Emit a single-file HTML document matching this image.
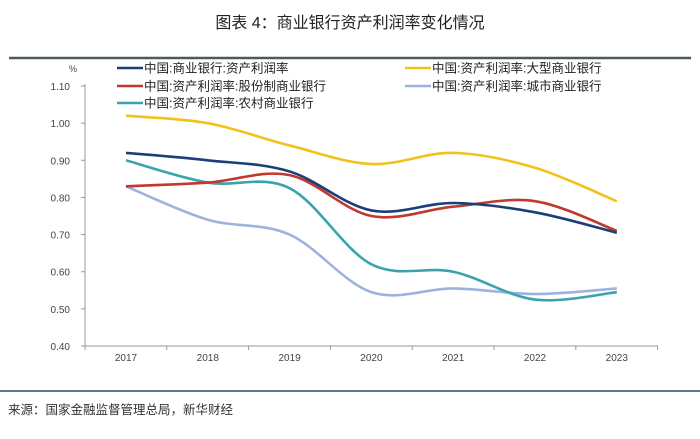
<!DOCTYPE html>
<html><head><meta charset="utf-8"><style>
body{margin:0;background:#fff;width:700px;height:434px;overflow:hidden;font-family:"Liberation Sans","Noto Sans CJK SC",sans-serif}
</style></head><body>
<svg id="c" width="700" height="434" xmlns="http://www.w3.org/2000/svg">
<text x="350" y="28" text-anchor="middle" font-size="16" fill="#222" font-family="Liberation Sans,Noto Sans CJK SC,sans-serif">图表 4：商业银行资产利润率变化情况</text>
<line x1="9" y1="58" x2="691" y2="58" stroke="#4a5a5e" stroke-width="2.5"/>
<line x1="0" y1="391" x2="700" y2="391" stroke="#1f4f66" stroke-width="1.5"/>
<text x="8" y="414" font-size="12.5" fill="#333" font-family="Liberation Sans,Noto Sans CJK SC,sans-serif">来源：国家金融监督管理总局，新华财经</text>
<text x="69" y="72" font-size="9" fill="#444">%</text>
<g id="axes"></g><g id="lines"></g><g id="legend"></g>
</svg>
<script>
const years=["2017","2018","2019","2020","2021","2022","2023"];
const yTicks=[0.40,0.50,0.60,0.70,0.80,0.90,1.00,1.10];
const seriesNames=["中国:商业银行:资产利润率","中国:资产利润率:大型商业银行","中国:资产利润率:股份制商业银行","中国:资产利润率:城市商业银行","中国:资产利润率:农村商业银行"];
const commercial=[0.92,0.90,0.87,0.765,0.785,0.76,0.705];
const large=[1.02,1.00,0.94,0.89,0.92,0.88,0.79];
const jointStock=[0.83,0.84,0.86,0.75,0.775,0.79,0.71];
const city=[0.83,0.74,0.70,0.545,0.555,0.54,0.555];
const rural=[0.90,0.84,0.825,0.62,0.60,0.525,0.545];
const colors=["#1a3f78","#f2c21b","#c0392b","#9db3de","#3aa3ad"];
const NS="http://www.w3.org/2000/svg";
const x=i=>126+i*81.8, y=v=>346-(v-0.4)/0.1*37.14;
const ax=document.getElementById('axes'),ln=document.getElementById('lines'),lg=document.getElementById('legend');
function mk(p,t,a){const e=document.createElementNS(NS,t);for(const k in a)e.setAttribute(k,a[k]);p.appendChild(e);return e;}
let e=mk(ax,'line',{x1:85,y1:84,x2:85,y2:346,stroke:'#999'});


e=mk(ax,'line',{x1:85,y1:346,x2:658,y2:346,stroke:'#999'});


yTicks.forEach(v=>{mk(ax,'line',{x1:81,y1:y(v),x2:85,y2:y(v),stroke:'#999'});
 const t=mk(ax,'text',{x:70,y:y(v)+4,'text-anchor':'end','font-size':10,fill:'#444'});t.textContent=v.toFixed(2);
 
 });
for(let i=0;i<=7;i++)mk(ax,'line',{x1:85+i*81.8,y1:346,x2:85+i*81.8,y2:350,stroke:'#999'});
years.forEach((yr,i)=>{const t=mk(ax,'text',{x:x(i),y:361,'text-anchor':'middle','font-size':10,fill:'#444'});t.textContent=yr;
 
 });
function path(vals){const p=vals.map((v,i)=>[x(i),y(v)]);let d=`M${p[0][0]},${p[0][1]}`;
 for(let i=0;i<p.length-1;i++){const p0=p[i-1]||p[i],p1=p[i],p2=p[i+1],p3=p[i+2]||p2;
  d+=` C${p1[0]+(p2[0]-p0[0])/6},${p1[1]+(p2[1]-p0[1])/6} ${p2[0]-(p3[0]-p1[0])/6},${p2[1]-(p3[1]-p1[1])/6} ${p2[0]},${p2[1]}`;}return d;}
const all=[commercial,large,jointStock,city,rural];
const order=[3,4,1,2,0];
order.forEach(k=>{const pth=mk(ln,'path',{d:path(all[k]),fill:'none',stroke:colors[k],'stroke-width':2.6});
 
 });
const lpos=[[117,68],[405,68],[117,86],[405,86],[117,103]];
seriesNames.forEach((n,k)=>{const [lx,ly]=lpos[k];
 const g=mk(lg,'g',{});
 
 
 mk(g,'line',{x1:lx,y1:ly,x2:lx+26,y2:ly,stroke:colors[k],'stroke-width':2.6});
 const t=mk(g,'text',{x:lx+27,y:ly+4.5,'font-size':12.5,fill:'#222','font-family':'Liberation Sans,Noto Sans CJK SC,sans-serif'});t.textContent=n;});
</script>
</body></html>
